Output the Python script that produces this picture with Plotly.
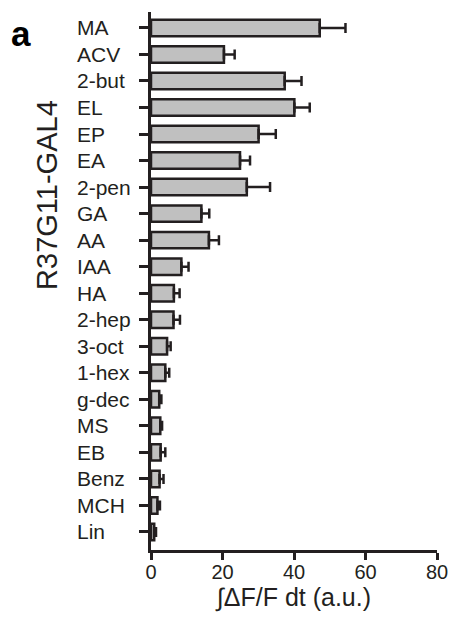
import plotly.graph_objects as go

# Odorant responses (integrated dF/F) with SEM
odors = ["MA", "ACV", "2-but", "EL", "EP", "EA", "2-pen", "GA", "AA", "IAA",
         "HA", "2-hep", "3-oct", "1-hex", "g-dec", "MS", "EB", "Benz", "MCH", "Lin"]
response = [47.2, 20.4, 37.4, 40.1, 30.1, 24.9, 26.8, 14.1, 16.2, 8.5,
            6.4, 6.3, 4.5, 4.0, 2.3, 2.6, 2.7, 2.4, 1.8, 0.9]
sem = [7.2, 3.0, 4.7, 4.3, 4.8, 2.8, 6.5, 2.2, 2.8, 2.0,
       1.6, 1.8, 1.0, 1.1, 0.6, 0.5, 1.3, 1.1, 0.7, 0.5]
x_ticks = [0, 20, 40, 60, 80]

INK = "#231f20"
FONT = "Liberation Sans, Arial, sans-serif"

# plot area in pixels
L, R, T, B, W, H = 151, 15, 12, 67, 460, 617
PW, PH = W - L - R, H - T - B

fig = go.Figure(go.Bar(
    x=response, y=odors, orientation="h",
    width=0.62,
    marker=dict(color="#c0c0c0", line=dict(color=INK, width=2.5)),
    error_x=dict(type="data", array=sem, arrayminus=[0] * len(sem), symmetric=False,
                 color=INK, thickness=2.5, width=5),
))

# Left-aligned odor names
for name in odors:
    fig.add_annotation(x=(73 - L) / PW, xref="paper", y=name, yref="y", text=name,
                       showarrow=False, xanchor="left", yanchor="middle",
                       font=dict(family=FONT, size=21, color=INK))

fig.add_annotation(x=(44 - L) / PW, xref="paper", xanchor="center",
                   y=(H - B - 195) / PH, yref="paper", yanchor="middle",
                   text="R37G11-GAL4", textangle=-90, showarrow=False,
                   font=dict(family=FONT, size=29, color=INK))
fig.add_annotation(x=(5 - L) / PW, xref="paper", y=(H - B - 12) / PH, yref="paper",
                   text="<b>a</b>", showarrow=False, xanchor="left", yanchor="top",
                   font=dict(family=FONT, size=35, color="#000000"))

fig.update_layout(
    width=W, height=H,
    margin=dict(l=L, r=R, t=T, b=B),
    paper_bgcolor="white", plot_bgcolor="white",
    showlegend=False,
    font=dict(family=FONT, size=21, color=INK),
    xaxis=dict(range=[0, 80], tickvals=x_ticks, ticks="outside", ticklen=7,
               tickwidth=2.5, tickcolor=INK, showline=True, linewidth=2.5,
               linecolor=INK, showgrid=False, zeroline=False,
               ticklabelstandoff=-5,
               tickfont=dict(family=FONT, size=20, color=INK),
               title=dict(text="∫ΔF/F dt (a.u.)", standoff=0,
                          font=dict(family=FONT, size=25, color=INK))),
    yaxis=dict(categoryorder="array", categoryarray=odors,
               range=[19.68, -0.6], ticks="outside", ticklen=9, tickwidth=2.5,
               tickcolor=INK, showline=True, linewidth=2.5, linecolor=INK,
               showticklabels=False, showgrid=False, zeroline=False),
)

fig.write_html("out.html")
